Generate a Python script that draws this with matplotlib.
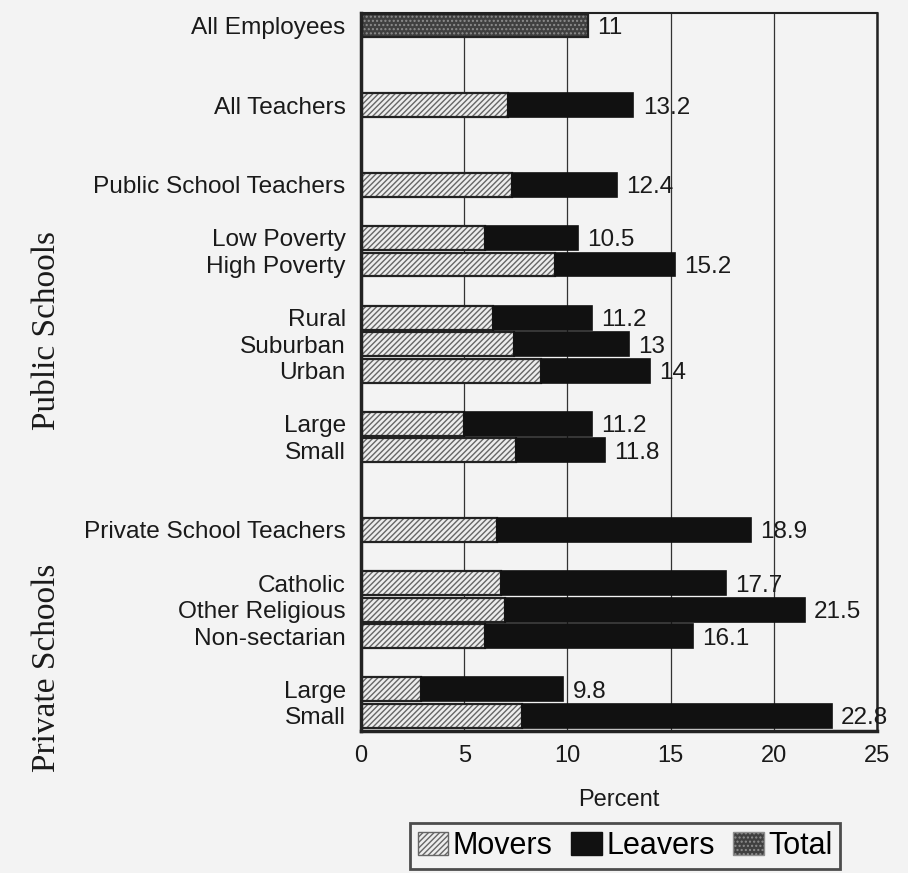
import numpy as np
import matplotlib.pyplot as plt
from matplotlib.patches import Patch

# rows, top to bottom
labels = ["All Employees", "All Teachers", "Public School Teachers",
          "Low Poverty", "High Poverty", "Rural", "Suburban", "Urban",
          "Large", "Small", "Private School Teachers", "Catholic",
          "Other Religious", "Non-sectarian", "Large", "Small"]
movers = [np.nan, 7.1, 7.3, 6.0, 9.4, 6.4, 7.4, 8.7, 5.0, 7.5,
          6.6, 6.8, 7.0, 6.0, 2.9, 7.8]
totals = [11, 13.2, 12.4, 10.5, 15.2, 11.2, 13, 14, 11.2, 11.8,
          18.9, 17.7, 21.5, 16.1, 9.8, 22.8]
groups = ["Public Schools", "Private Schools"]
ticks = [0, 5, 10, 15, 20, 25]

# layout: empty slots before each row
gap_before = [0, 2, 2, 1, 0, 1, 0, 0, 1, 0, 2, 1, 0, 0, 1, 0]
idx = np.arange(len(labels)) + np.cumsum(gap_before)
ypos = idx.max() - idx

movers = np.array(movers, dtype=float)
totals = np.array(totals, dtype=float)
leavers = totals - movers

bg = "#f3f3f3"
ink = "#1a1a1a"
fig = plt.figure(figsize=(9.08, 8.73), dpi=100, facecolor=bg)
ax = fig.add_axes([361 / 908, 1 - 731 / 873, (877 - 361) / 908, (731 - 13) / 873])
ax.set_facecolor(bg)

h = 0.9
has_m = ~np.isnan(movers)
# movers (hatched)
ax.barh(ypos[has_m], movers[has_m], height=h, color="#ededed", edgecolor="#666666",
        hatch="//////", linewidth=0, zorder=2)
ax.barh(ypos[has_m], movers[has_m], height=h, fill=False, edgecolor="#222222",
        linewidth=1.6, zorder=3)
# leavers (black)
ax.barh(ypos[has_m], leavers[has_m], left=movers[has_m], height=h, color="#111111",
        edgecolor="#111111", linewidth=1.2, zorder=3)
# total (stippled)
ax.barh(ypos[~has_m], totals[~has_m], height=h, color="#404040", edgecolor="#8e8e8e",
        hatch="....", linewidth=0, zorder=2)
ax.barh(ypos[~has_m], totals[~has_m], height=h, fill=False, edgecolor="#222222",
        linewidth=1.6, zorder=3)

for y, t in zip(ypos, totals):
    ax.text(t + 0.45, y, f"{t:g}", va="center_baseline", ha="left", fontsize=17.5,
            family="Liberation Sans", color=ink)

ax.set_xlim(0, 25)
ax.set_ylim(-0.57, idx.max() + 0.47)
ax.set_xticks(ticks)
ax.set_xticklabels([str(t) for t in ticks], family="Liberation Sans",
                   fontsize=17, color=ink)
ax.set_yticks(ypos)
ax.set_yticklabels(labels, family="Liberation Sans", fontsize=17.6, color=ink)
ax.tick_params(axis="x", length=0, pad=10)
ax.tick_params(axis="y", length=0, pad=11)
ax.set_xlabel("Percent", family="Liberation Sans", fontsize=17, labelpad=16, color=ink)

ax.xaxis.grid(True, color="#333333", linewidth=0.9)
ax.set_axisbelow(True)
for side, lw in [("left", 2.5), ("bottom", 2.5), ("top", 1.5), ("right", 1.8)]:
    ax.spines[side].set_linewidth(lw)
    ax.spines[side].set_color("#222222")

fig.text(47 / 908, 1 - 331 / 873, groups[0], rotation=90, ha="center", va="center",
         family="Liberation Serif", fontsize=24, color=ink)
fig.text(47 / 908, 1 - 668 / 873, groups[1], rotation=90, ha="center", va="center",
         family="Liberation Serif", fontsize=24, color=ink)

handles = [Patch(facecolor="#ededed", edgecolor="#666666", hatch="//////"),
           Patch(facecolor="#111111", edgecolor="#111111"),
           Patch(facecolor="#404040", edgecolor="#8e8e8e", hatch="....")]
leg = fig.legend(handles, ["Movers", "Leavers", "Total"], loc="center",
                 bbox_to_anchor=(625 / 908, 1 - 846 / 873), ncol=3,
                 prop={"family": "Liberation Sans", "size": 22},
                 frameon=True, fancybox=False, edgecolor="#222222", facecolor=bg,
                 handlelength=1.0, handleheight=0.8, handletextpad=0.15,
                 columnspacing=0.6, borderpad=0.25)
leg.get_frame().set_linewidth(2)

fig.savefig("out.png", dpi=100, facecolor=bg)
